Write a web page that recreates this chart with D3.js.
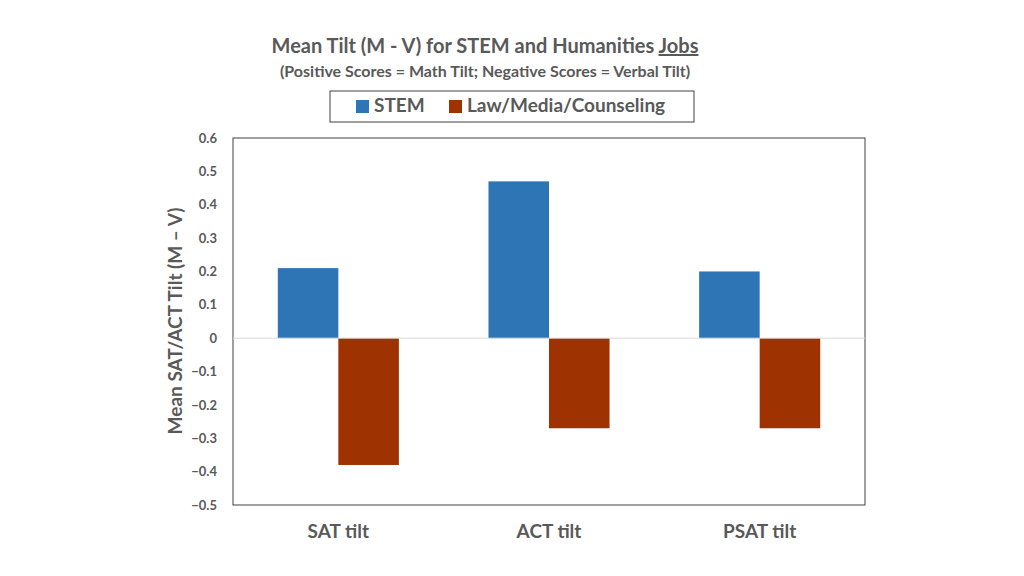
<!DOCTYPE html>
<html><head><meta charset="utf-8">
<script src="https://cdn.jsdelivr.net/npm/d3@7"></script>
<style>body{margin:0;background:#fff}text{font-family:Lato,"Open Sans",sans-serif;font-weight:bold;fill:#595959}</style>
</head><body><svg id="chart" width="1024" height="576"></svg>
<script>
const categories = ['SAT tilt', 'ACT tilt', 'PSAT tilt']
const seriesNames = ['STEM', 'Law/Media/Counseling']
const stemValues = [0.21, 0.47, 0.2]
const lawValues = [-0.38, -0.27, -0.27]
const yTicks = [0.6, 0.5, 0.4, 0.3, 0.2, 0.1, 0, -0.1, -0.2, -0.3, -0.4, -0.5]
const colors = ['#2e75b6', '#9e3200']

const margin = { top: 138, left: 233, right: 159, bottom: 71 }
const width = 1024 - margin.left - margin.right
const height = 576 - margin.top - margin.bottom
const svg = d3.select('#chart')
const g = svg.append('g').attr('transform', 'translate(' + margin.left + ',' + margin.top + ')')

const x = d3.scaleBand().domain(categories).range([0, width])
const x1 = d3.scaleBand().domain(seriesNames).range([0, x.bandwidth()]).paddingOuter(0.74).paddingInner(0)
const y = d3.scaleLinear().domain([-0.5, 0.6]).range([height, 0])

g.append('rect').attr('width', width).attr('height', height).attr('fill', 'none').attr('stroke', '#404040').attr('stroke-width', 1)

const rows = categories.map((c, i) => ({ c, vals: [stemValues[i], lawValues[i]] }))
rows.forEach(r => {
  r.vals.forEach((v, j) => {
    g.append('rect')
      .attr('x', x(r.c) + x1(seriesNames[j]))
      .attr('width', x1.bandwidth())
      .attr('y', y(Math.max(0, v)))
      .attr('height', Math.abs(y(v) - y(0)))
      .attr('fill', colors[j])
  })
})
g.append('line').attr('x1', 0).attr('x2', width).attr('y1', y(0)).attr('y2', y(0)).attr('stroke', '#d9d9d9')

const yAxis = d3.axisLeft(y).tickValues(yTicks).tickSize(0).tickPadding(16).tickFormat(d => d === 0 ? '0' : d3.format('.1f')(d))
const ya = g.append('g').call(yAxis)
ya.selectAll('text').style('font-size', '13px')
ya.select('.domain').remove()

const xAxis = d3.axisBottom(x).tickSize(0).tickPadding(20)
const xa = g.append('g').attr('transform', 'translate(0,' + height + ')').call(xAxis)
xa.selectAll('text').style('font-size', '19px')
xa.select('.domain').remove()

svg.append('text').attr('transform', 'translate(182,321) rotate(-90)').attr('text-anchor', 'middle').style('font-size', '19px').text('Mean SAT/ACT Tilt (M – V)')

const title = svg.append('text').attr('x', 485).attr('y', 53).attr('text-anchor', 'middle').style('font-size', '20px')
title.append('tspan').text('Mean Tilt (M - V) for STEM and Humanities ')
title.append('tspan').attr('text-decoration', 'underline').text('Jobs')
svg.append('text').attr('x', 485).attr('y', 77).attr('text-anchor', 'middle').style('font-size', '16px').text('(Positive Scores = Math Tilt; Negative Scores = Verbal Tilt)')

svg.append('rect').attr('x', 330).attr('y', 91).attr('width', 364).attr('height', 31).attr('fill', 'none').attr('stroke', '#404040')
const legendX = [356, 449]
seriesNames.forEach((n, i) => {
  svg.append('rect').attr('x', legendX[i]).attr('y', 100).attr('width', 13).attr('height', 13).attr('fill', colors[i])
  svg.append('text').attr('x', legendX[i] + 18).attr('y', 112).style('font-size', '19px').text(n)
})
</script></body></html>
